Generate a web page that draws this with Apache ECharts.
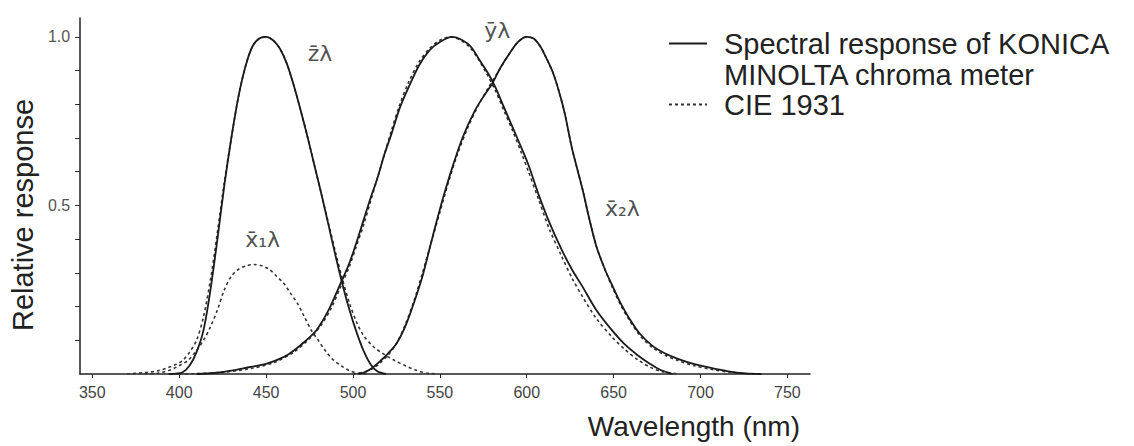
<!DOCTYPE html>
<html>
<head>
<meta charset="utf-8">
<script src="https://cdn.jsdelivr.net/npm/echarts@6/dist/echarts.min.js"></script>
<style>
  html, body { margin: 0; padding: 0; background: #fff; }
  #chart { width: 1134px; height: 446px; }
</style>
</head>
<body>
<div id="chart"></div>
<script>
// wavelength (nm) / relative response

// KONICA MINOLTA meter (solid)
const zMeter = [[394,0],[398,0.001],[402,0.005],[406,0.025],[410,0.065],[414,0.13],[418,0.25],[422,0.40],[426,0.56],[430,0.70],[434,0.82],[438,0.91],[442,0.97],[446,0.995],[450,1.0],[454,0.99],[458,0.965],[462,0.92],[466,0.855],[470,0.78],[474,0.70],[478,0.615],[482,0.53],[486,0.44],[490,0.35],[494,0.265],[498,0.19],[502,0.125],[506,0.07],[510,0.03],[514,0.008],[519,0]];
const yMeter = [[410,0],[420,0.003],[430,0.01],[440,0.02],[450,0.03],[460,0.05],[466,0.07],[472,0.095],[479,0.13],[486,0.19],[493,0.27],[498,0.33],[502,0.39],[506,0.455],[510,0.52],[514,0.58],[518,0.65],[522,0.71],[527,0.79],[532,0.85],[538,0.915],[544,0.96],[550,0.985],[557,1.0],[563,0.99],[568,0.97],[573,0.93],[578,0.89],[582,0.85],[587,0.79],[592,0.73],[597,0.67],[601,0.62],[607,0.53],[613,0.45],[620,0.37],[626,0.31],[632,0.26],[640,0.19],[649,0.13],[656,0.09],[664,0.055],[671,0.03],[677,0.012],[684,0]];
const x2Meter = [[503,0],[507,0.006],[511,0.018],[516,0.04],[520,0.06],[525,0.09],[530,0.14],[535,0.21],[540,0.29],[544,0.37],[548,0.45],[552,0.525],[557,0.61],[563,0.70],[570,0.78],[576,0.83],[580,0.86],[585,0.91],[590,0.95],[595,0.985],[600,1.0],[604,0.995],[608,0.97],[611,0.94],[615,0.895],[619,0.83],[622,0.77],[626,0.67],[632,0.55],[636,0.46],[640,0.38],[645,0.31],[649,0.265],[654,0.21],[659,0.165],[665,0.12],[672,0.085],[680,0.06],[687,0.045],[696,0.03],[706,0.018],[716,0.008],[726,0.002],[735,0]];

// CIE 1931 (dotted)
const zCie = [[370,0],[380,0.004],[388,0.01],[394,0.02],[398,0.028],[402,0.04],[406,0.065],[410,0.10],[414,0.17],[418,0.28],[422,0.42],[426,0.57],[430,0.70],[434,0.82],[438,0.91],[442,0.97],[446,0.995],[450,1.0],[454,0.99],[458,0.965],[462,0.92],[466,0.855],[470,0.78],[474,0.70],[478,0.615],[482,0.53],[486,0.445],[490,0.36],[494,0.28],[498,0.21],[502,0.155],[506,0.115],[512,0.08],[518,0.058],[524,0.04],[530,0.025],[536,0.012],[542,0.003],[548,0]];
const x1Cie = [[380,0],[388,0.003],[395,0.012],[400,0.025],[405,0.04],[410,0.07],[414,0.10],[418,0.14],[422,0.19],[426,0.25],[430,0.29],[434,0.31],[438,0.32],[443,0.325],[448,0.32],[452,0.31],[456,0.29],[460,0.27],[464,0.24],[468,0.21],[472,0.17],[476,0.13],[480,0.10],[484,0.07],[488,0.045],[493,0.025],[498,0.01],[503,0.003],[508,0]];
const yCie = [[400,0],[420,0.003],[440,0.015],[455,0.035],[466,0.065],[474,0.10],[481,0.14],[487,0.19],[493,0.26],[498,0.32],[502,0.38],[506,0.44],[510,0.51],[514,0.58],[518,0.65],[522,0.72],[527,0.80],[532,0.865],[538,0.925],[544,0.965],[550,0.99],[556,1.0],[562,0.99],[567,0.97],[572,0.935],[577,0.89],[582,0.84],[587,0.78],[592,0.72],[597,0.655],[601,0.60],[607,0.515],[613,0.43],[620,0.35],[626,0.285],[632,0.23],[640,0.165],[649,0.11],[656,0.075],[664,0.042],[671,0.02],[678,0.007],[688,0]];
const x2Cie = [[500,0],[505,0.004],[510,0.012],[515,0.03],[520,0.055],[525,0.09],[530,0.145],[535,0.215],[540,0.30],[545,0.39],[550,0.48],[555,0.57],[560,0.65],[566,0.73],[572,0.795],[578,0.85],[584,0.90],[590,0.95],[595,0.985],[600,1.0],[604,0.995],[608,0.97],[611,0.94],[615,0.895],[619,0.83],[622,0.77],[626,0.67],[632,0.55],[636,0.46],[640,0.38],[645,0.31],[649,0.26],[654,0.205],[659,0.16],[665,0.115],[672,0.08],[680,0.055],[687,0.04],[696,0.025],[706,0.014],[716,0.006],[726,0.001],[735,0]];

// curve names written next to the curves
const curveLabels = [[481, 0.95, 'z\u0304\u03bb'], [583, 1.02, 'y\u0304\u03bb'], [655, 0.49, 'x\u0304\u2082\u03bb'], [448, 0.40, 'x\u0304\u2081\u03bb']];

const xTicks = [350, 400, 450, 500, 550, 600, 650, 700, 750];
const yTicks = [0.1, 0.2, 0.3, 0.4, 0.5, 0.6, 0.7, 0.8, 0.9, 1.0];
const yLabels = [0.5, 1.0];

const meterName = 'Spectral response of KONICA\nMINOLTA chroma meter';
const cieName = 'CIE 1931';

const font = '"Liberation Sans", Arial, sans-serif';

function solid(data) {
  return {
    name: meterName, type: 'line', data: data, smooth: 0.3,
    symbol: 'none', silent: true,
    lineStyle: { color: '#1a1a1a', width: 1.8 },
    itemStyle: { color: '#1a1a1a' },
    z: 3,
  };
}
function dotted(data) {
  return {
    name: cieName, type: 'line', data: data, smooth: 0.3,
    symbol: 'none', silent: true,
    lineStyle: { color: '#333', width: 1.6, type: [3, 3] },
    itemStyle: { color: '#333' },
    z: 2,
  };
}

const myChart = echarts.init(document.getElementById('chart'), null, { renderer: 'svg' });
myChart.setOption({
  animation: false,
  backgroundColor: '#fff',
  grid: { left: 75, right: 324, top: 18, bottom: 72 },
  legend: {
    orient: 'vertical',
    left: 668,
    top: -3,
    padding: 0,
    itemGap: -1,
    itemWidth: 38,
    itemHeight: 14,
    selectedMode: false,
    data: [meterName, cieName],
    itemStyle: { opacity: 0 },
    // blank first line keeps the line icon level with the first text line
    formatter: function (name) {
      return name === meterName ? ' \n' + name : name;
    },
    textStyle: {
      fontFamily: font, fontSize: 29, color: '#222', lineHeight: 31,
      padding: [0, 0, 0, 12],
    },
  },
  xAxis: {
    type: 'value',
    min: 343,
    max: 763,
    name: 'Wavelength (nm)',
    nameLocation: 'end',
    nameGap: -10,
    nameTextStyle: {
      fontFamily: font, fontSize: 28, color: '#222',
      align: 'right', verticalAlign: 'top', padding: [38, 0, 0, 0],
    },
    axisLine: { lineStyle: { color: '#222', width: 1.5 } },
    axisTick: { customValues: xTicks, length: 4, lineStyle: { color: '#222' } },
    axisLabel: { customValues: xTicks, fontFamily: font, fontSize: 16, color: '#444', margin: 10 },
    splitLine: { show: false },
  },
  yAxis: {
    type: 'value',
    min: 0,
    max: 1.056,
    name: 'Relative response',
    nameLocation: 'middle',
    nameGap: 36,
    nameTextStyle: { fontFamily: font, fontSize: 29, color: '#222', padding: [0, 38, 0, 0] },
    axisLine: { show: true, lineStyle: { color: '#222', width: 1.5 } },
    axisTick: { customValues: yTicks, length: 5, lineStyle: { color: '#222' } },
    axisLabel: {
      customValues: yLabels, fontFamily: font, fontSize: 16, color: '#555', margin: 10,
      formatter: function (v) { return v.toFixed(1); },
    },
    splitLine: { show: false },
  },
  series: [
    solid(zMeter), solid(yMeter), solid(x2Meter),
    dotted(zCie), dotted(x1Cie), dotted(yCie), dotted(x2Cie),
    {
      type: 'scatter',
      silent: true,
      symbolSize: 0,
      data: curveLabels,
      label: {
        show: true,
        position: 'inside',
        fontFamily: '"DejaVu Sans", sans-serif',
        fontSize: 22,
        color: '#222',
        formatter: function (p) { return p.data[2]; },
      },
    },
  ],
});
</script>
</body>
</html>
